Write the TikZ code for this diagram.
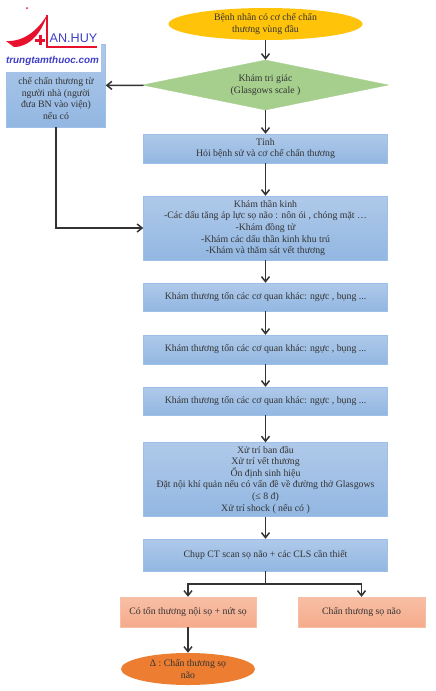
\documentclass[tikz,border=0pt]{standalone}
\usepackage{fontspec}
\setmainfont{Liberation Serif}
\newfontfamily\logofont{Liberation Sans}
\usetikzlibrary{shapes.geometric,arrows.meta}
\definecolor{boxtop}{HTML}{AFC9E9}
\definecolor{boxbot}{HTML}{92B7E2}
\definecolor{boxline}{HTML}{9DBFE8}
\definecolor{saltop}{HTML}{F8BFA6}
\definecolor{salbot}{HTML}{F5AB8B}
\definecolor{sunny}{HTML}{FFC30A}
\definecolor{leaf}{HTML}{A6CF8E}
\definecolor{ember}{HTML}{ED7D31}
\definecolor{logored}{HTML}{E8112D}
\definecolor{logoblue}{HTML}{3F3FC8}
\tikzset{
  every node/.style={font=\fontsize{9.8}{11.6}\selectfont,text=black!80,align=center},
  link/.style={-{Straight Barb[length=5pt,width=8pt]},line width=1.5pt,draw=black!80},
  bluebox/.style={rectangle,draw=boxline,top color=boxtop,bottom color=boxbot,minimum width=244pt},
  salbox/.style={rectangle,draw=saltop,top color=saltop,bottom color=salbot,minimum height=30pt}
}
\begin{document}
\begin{tikzpicture}[x=1pt,y=-1pt]
  \useasboundingbox (0,0) rectangle (436,691);

  \node[ellipse,fill=sunny,minimum width=194pt,minimum height=32pt,inner sep=0pt] (start) at (265.5,24) {Bệnh nhân có cơ chế chấn\\thương vùng đầu};
  \node[diamond,draw=leaf,fill=leaf,minimum width=246pt,minimum height=50pt,aspect=4.9,inner sep=0pt] (gcs) at (265.5,85) {Khám tri giác\\(Glasgows scale )};

  \node[rectangle,draw=boxline,top color=boxtop,bottom color=boxbot,minimum width=99pt,minimum height=83pt] (history) at (56,85.5) {};
  \node[bluebox,minimum height=29pt] (awake) at (265.5,148.5) {Tỉnh\\Hỏi bệnh sử và cơ chế chấn thương};
  \node[bluebox,minimum height=64pt] (neuro) at (265.5,228) {Khám thần kinh\\-Các dấu tăng áp lực sọ não : nôn ói , chóng mặt …\\-Khám đồng tử\\-Khám các dấu thần kinh khu trú\\-Khám và thăm sát vết thương};
  \node[bluebox,minimum height=28pt] (organA) at (265.5,297) {Khám thương tổn các cơ quan khác: ngực , bụng ...};
  \node[bluebox,minimum height=29pt] (organB) at (265.5,349.5) {Khám thương tổn các cơ quan khác: ngực , bụng ...};
  \node[bluebox,minimum height=28pt] (organC) at (265.5,401) {Khám thương tổn các cơ quan khác: ngực , bụng ...};
  \node[bluebox,minimum height=71pt] (care) at (265.5,479.5) {Xử trí ban đầu\\Xử trí vết thương\\Ổn định sinh hiệu\\Đặt nội khí quản nếu có vấn đề về đường thở Glasgows\\(≤ 8 đ)\\Xử trí shock ( nếu có )};
  \node[bluebox,minimum height=32pt] (scan) at (265.5,555) {Chụp CT scan sọ não + các CLS cần thiết};
  \node[salbox,minimum width=136pt] (lesion) at (188,612) {Có tổn thương nội sọ + nứt sọ};
  \node[salbox,minimum width=127pt] (trauma) at (361.5,612) {Chấn thương sọ não};
  \node[ellipse,fill=ember,minimum width=134pt,minimum height=32pt,inner sep=0pt] (diag) at (188,669) {Δ : Chấn thương sọ\\não};

  \draw[link] (start) -- (gcs);
  \draw[link] (gcs) -- (awake);
  \draw[link] (gcs) -- (history);
  \draw[link] (awake) -- (neuro);
  \draw[link] (neuro) -- (organA);
  \draw[link] (organA) -- (organB);
  \draw[link] (organB) -- (organC);
  \draw[link] (organC) -- (care);
  \draw[link] (care) -- (scan);
  \draw[link] (history.south) |- (neuro.west);
  \coordinate (fork) at (265.5,584);
  \draw[line width=1.5pt,draw=black!80] (scan.south) -- (fork);
  \draw[link] (fork) -| (lesion.north);
  \draw[link] (fork) -| (trauma.north);
  \draw[link] (lesion) -- (diag);

  % logo over the left box
  \fill[white] (0,2) rectangle (101,72);
  \node (historytext) at (56,98.5) {chế chấn thương từ\\người nhà (người\\đưa BN vào viện)\\nếu có};
  \fill[logored] (6,41) .. controls (24,42) and (38,30) .. (47,15) .. controls (42,32) and (30,47) .. (14,47) -- cycle;
  \fill[logored] (27,8) circle (1pt);
  \draw[logored,line width=1.2pt] (47,15) -- (47,47) -- (97,47);
  \draw[logored,line width=3pt] (40,35) -- (40,45) (35,40) -- (45,40);
  \node[font=\logofont\fontsize{12.6}{13}\selectfont,text=logoblue,inner sep=0pt] (brand) at (73.5,38) {AN.HUY};
  \node[font=\logofont\bfseries\itshape\fontsize{9.9}{11}\selectfont,text=logoblue,inner sep=0pt] (site) at (52.5,60.5) {trungtamthuoc.com};
\end{tikzpicture}
\end{document}
